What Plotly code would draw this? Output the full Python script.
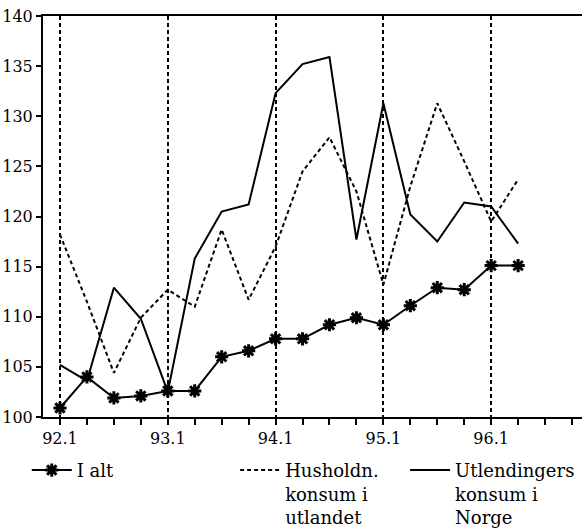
"""Reiseliv: konsum i og utenfor Norge, kvartalsindekser 92.1-96.2."""
import numpy as np
import plotly.graph_objects as go

# Quarters shown on the chart
quarters = ["92.1", "92.2", "92.3", "92.4",
            "93.1", "93.2", "93.3", "93.4",
            "94.1", "94.2", "94.3", "94.4",
            "95.1", "95.2", "95.3", "95.4",
            "96.1", "96.2"]
tick_labels = ["92.1", "93.1", "94.1", "95.1", "96.1"]

# Series
i_alt = [100.9, 104.0, 101.9, 102.1, 102.6, 102.6, 106.0, 106.6,
         107.8, 107.8, 109.2, 109.9, 109.2, 111.1, 112.9, 112.7,
         115.1, 115.1]
husholdn = [118.2, 111.5, 104.4, 109.9, 112.7, 111.0, 118.7, 111.7,
            117.0, 124.5, 127.9, 122.5, 113.2, 123.0, 131.3, 125.5,
            119.5, 123.7]
utlendinger = [105.2, 103.6, 112.9, 109.8, 102.5, 115.8, 120.5, 121.2,
               132.3, 135.2, 135.9, 117.7, 131.3, 120.2, 117.5, 121.4,
               121.0, 117.3]

x = np.arange(len(quarters))
n_ticks = 20  # axis carries on to 96.4
serif = "DejaVu Serif"

fig = go.Figure()
fig.add_trace(go.Scatter(
    x=x, y=i_alt, name="I alt", mode="lines+markers",
    line=dict(color="black", width=2),
    marker=dict(symbol="asterisk-open", size=11, color="black",
                line=dict(color="black", width=3)),
    legend="legend"))
fig.add_trace(go.Scatter(
    x=x, y=husholdn, name="Husholdn.<br>konsum i<br>utlandet", mode="lines",
    line=dict(color="black", width=2, dash="4px,3px"),
    legend="legend2"))
fig.add_trace(go.Scatter(
    x=x, y=utlendinger, name="Utlendingers<br>konsum i<br>Norge", mode="lines",
    line=dict(color="black", width=2),
    legend="legend3"))

legend_style = dict(font=dict(family=serif, size=18, color="black"),
                    xref="container", yref="container", xanchor="left",
                    yanchor="top", y=0.149, valign="top", tracegroupgap=0,
                    bgcolor="rgba(0,0,0,0)", itemwidth=40)

fig.update_layout(
    width=582, height=531,
    margin=dict(l=43, r=0, t=16, b=114, autoexpand=False),
    paper_bgcolor="white", plot_bgcolor="white",
    font=dict(family=serif, size=16, color="black"),
    showlegend=True,
    legend=dict(x=0.046, **legend_style),
    legend2=dict(x=0.404, **legend_style),
    legend3=dict(x=0.696, **legend_style),
    xaxis=dict(
        range=[-0.63, 19.37],
        tickmode="array", tickvals=[quarters.index(t) for t in tick_labels],
        ticktext=tick_labels,
        ticks="outside", ticklen=6, tickwidth=2, tickcolor="black",
        minor=dict(tickmode="array", tickvals=list(range(n_ticks)),
                   ticks="outside", ticklen=6, tickwidth=2, tickcolor="black",
                   showgrid=False),
        showgrid=True, gridcolor="black", gridwidth=2, griddash="4px,3px",
        showline=True, linecolor="black", linewidth=2, mirror=True,
        zeroline=False, tickfont=dict(family=serif, size=16),
    ),
    yaxis=dict(
        range=[100, 140], dtick=5,
        ticks="outside", ticklen=5, tickwidth=2, tickcolor="black",
        showgrid=False, showline=True, linecolor="black", linewidth=2,
        zeroline=False, tickfont=dict(family=serif, size=16),
    ),
)

# drop the browser's default 8px body margin so the figure fills the window
fig.write_html("out.html", config={"displayModeBar": False},
               post_script="document.body.style.margin = '0';")
